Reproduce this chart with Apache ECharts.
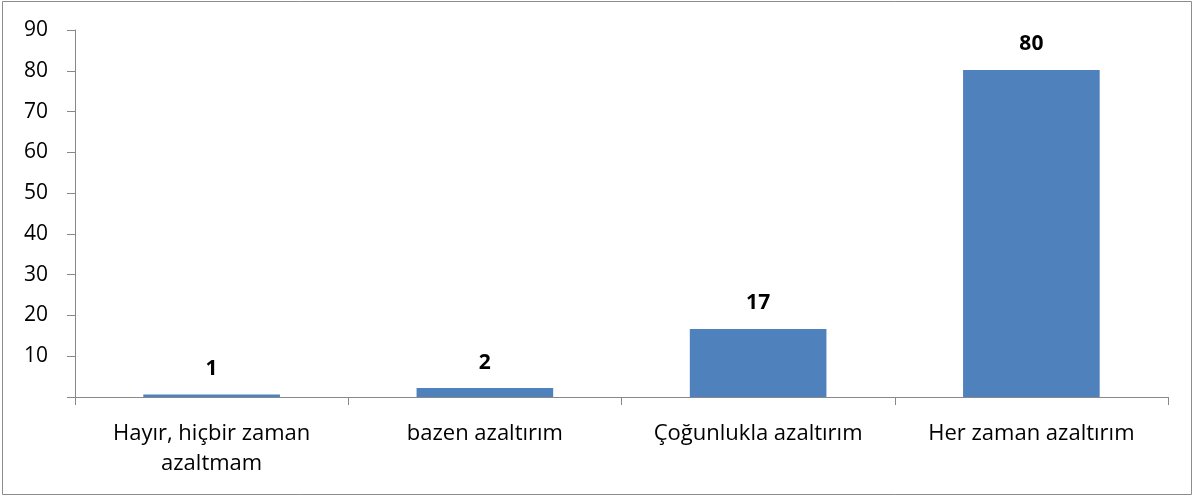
<!DOCTYPE html>
<html>
<head>
<meta charset="utf-8">
<script src="https://cdn.jsdelivr.net/npm/echarts@6/dist/echarts.min.js"></script>
<style>
  html, body { margin: 0; padding: 0; background: #fff; }
  #chart { width: 1194px; height: 497px; }
</style>
</head>
<body>
<div id="chart"></div>
<script>
var categories = ['Hayır, hiçbir zaman\nazaltmam', 'bazen azaltırım', 'Çoğunlukla azaltırım', 'Her zaman azaltırım'];
var values = [0.6, 2.2, 16.7, 80.2];
var labels = ['1', '2', '17', '80'];
var yTicks = [0, 90, 10];

var chart = echarts.init(document.getElementById('chart'));
var font = 'Open Sans, Lato, sans-serif';

chart.setOption({
  animation: false,
  graphic: [{
    type: 'rect',
    shape: { x: 2.5, y: 1.5, width: 1189, height: 493 },
    style: { fill: 'none', stroke: '#8c8c8c', lineWidth: 1 },
    silent: true
  }],
  grid: { left: 75, right: 26, top: 30, bottom: 100 },
  xAxis: {
    type: 'category',
    data: categories,
    boundaryGap: true,
    axisLine: { lineStyle: { color: '#888', width: 1 } },
    axisTick: { show: true, length: 8, alignWithLabel: false, lineStyle: { color: '#888' } },
    axisLabel: {
      color: '#000', fontSize: 22, fontFamily: font,
      margin: 22, lineHeight: 30, interval: 0
    }
  },
  yAxis: {
    type: 'value',
    min: yTicks[0],
    max: yTicks[1],
    interval: yTicks[2],
    splitLine: { show: false },
    axisLine: { show: true, lineStyle: { color: '#888', width: 1 } },
    axisTick: { show: true, length: 8, lineStyle: { color: '#888' } },
    axisLabel: {
      color: '#000', fontSize: 21, fontFamily: font, margin: 27,
      formatter: function(v) { return v === 0 ? '' : String(v); }
    }
  },
  series: [{
    type: 'bar',
    data: values,
    barWidth: '50%',
    itemStyle: { color: '#4f81bd' },
    label: {
      show: true,
      position: 'top',
      distance: 15,
      color: '#000',
      fontSize: 21,
      fontWeight: 'bold',
      fontFamily: font,
      formatter: function(p) { return labels[p.dataIndex]; }
    }
  }]
});
</script>
</body>
</html>
